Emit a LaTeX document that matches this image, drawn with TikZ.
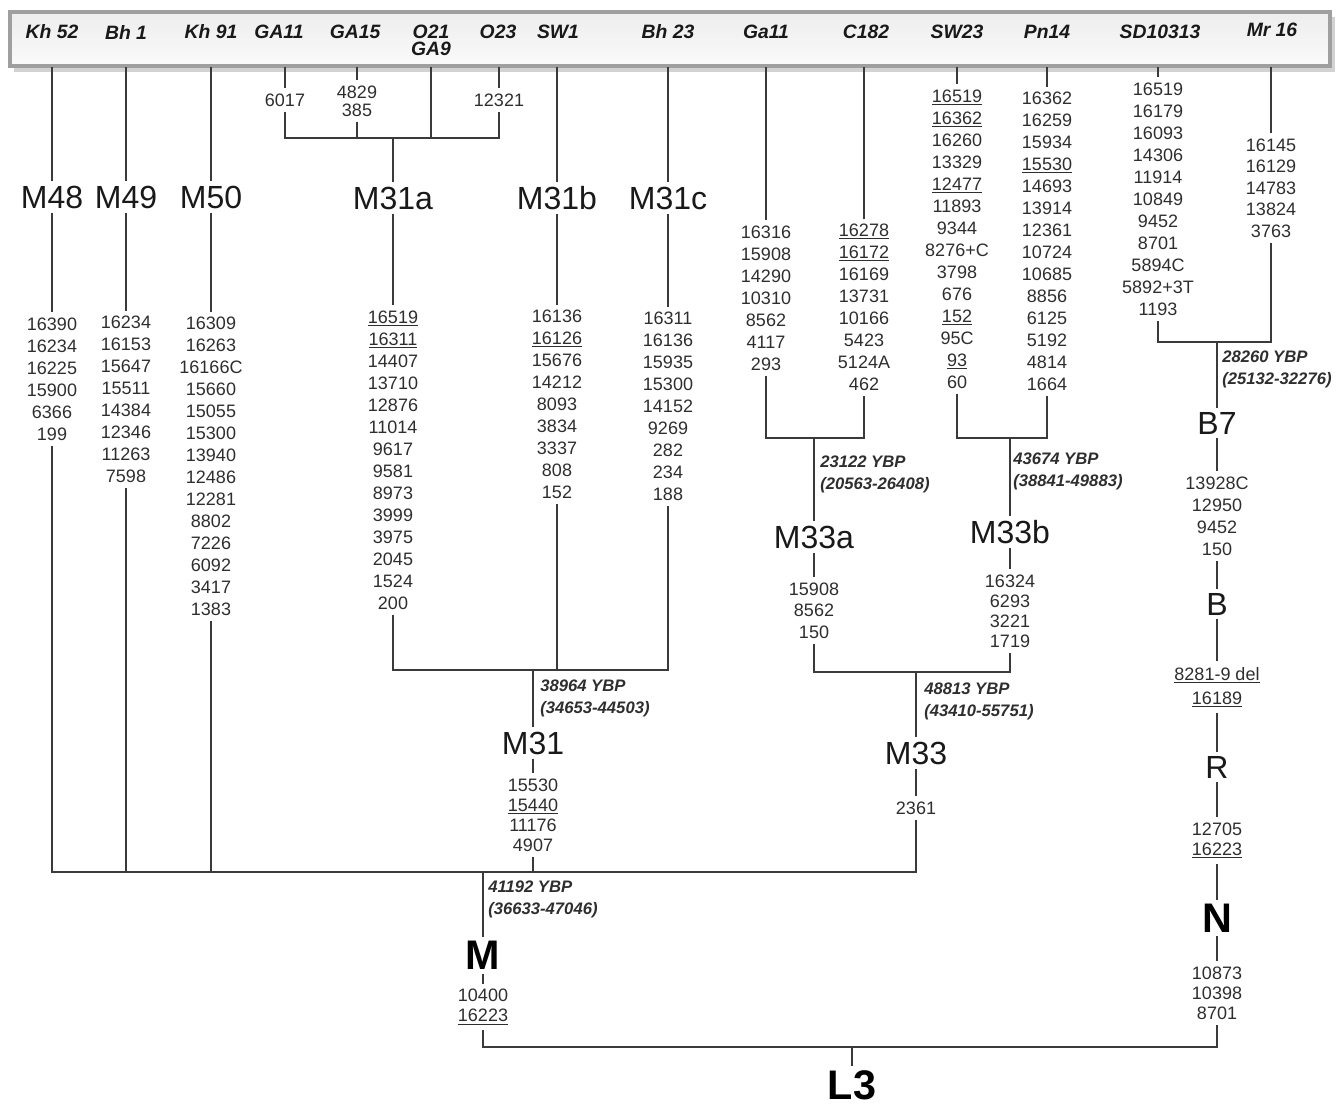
\documentclass[tikz,border=0pt]{standalone}
\usepackage{fontspec}
\setmainfont{Liberation Sans}
\definecolor{treecol}{HTML}{3A3A3A}
\definecolor{txtcol}{HTML}{2E2E2E}
\begin{document}
\begin{tikzpicture}[x=0.75pt,y=0.75pt]
        \tikzstyle{every node}+=[inner sep=0pt]
        \tikzstyle{tip}=[font=\bfseries\itshape\fontsize{14.5}{13}\selectfont, align=center, text=black!90]
        \tikzstyle{hg}=[font=\fontsize{24}{26}\selectfont, inner sep=3pt, text=black!90]
        \tikzstyle{hgb}=[font=\bfseries\fontsize{31}{33}\selectfont, inner sep=3pt, text=black]
        \tikzstyle{mut}=[font=\fontsize{13.5}{16.5}\selectfont, align=center, inner sep=4pt, text=txtcol]
        \tikzstyle{mutt}=[mut, font=\fontsize{13.5}{15}\selectfont]
        \tikzstyle{age}=[font=\bfseries\itshape\fontsize{12.5}{16.5}\selectfont, align=left, anchor=west, text=txtcol]
        \tikzstyle{branch}=[draw=treecol, line width=1pt]
        \useasboundingbox (0,0) rectangle (1342,-1107);
        % sample bar
        \fill [gray!35] (14,-17) rectangle (1335,-72);
        \draw [line width=2.4pt, draw=gray!75, top color=gray!14, bottom color=gray!4] (10,-12) rectangle (1330,-66);
        \draw (52,-32) node (kh52) [tip] {Kh 52};
        \draw (126,-32) node (bh1) [tip] {Bh 1};
        \draw (211,-32) node (kh91) [tip] {Kh 91};
        \draw (279,-32) node (ga11) [tip] {GA11};
        \draw (355,-32) node (ga15) [tip] {GA15};
        \draw (431,-40.5) node (o21) [tip] {O21\\GA9};
        \draw (498,-32) node (o23) [tip] {O23};
        \draw (558,-32) node (sw1) [tip] {SW1};
        \draw (668,-32) node (bh23) [tip] {Bh 23};
        \draw (766,-32) node (ga11b) [tip] {Ga11};
        \draw (866,-32) node (c182) [tip] {C182};
        \draw (957,-32) node (sw23) [tip] {SW23};
        \draw (1047,-32) node (pn14) [tip] {Pn14};
        \draw (1160,-32) node (sd10313) [tip] {SD10313};
        \draw (1272,-30) node (mr16) [tip] {Mr 16};
        % haplogroups
        \draw (52,-197) node (m48) [hg] {M48};
        \draw (126,-197) node (m49) [hg] {M49};
        \draw (211,-197) node (m50) [hg] {M50};
        \draw (393,-198) node (m31a) [hg] {M31a};
        \draw (557,-198) node (m31b) [hg] {M31b};
        \draw (668,-198) node (m31c) [hg] {M31c};
        \draw (533,-743) node (m31) [hg] {M31};
        \draw (814,-537) node (m33a) [hg] {M33a};
        \draw (1010,-532) node (m33b) [hg] {M33b};
        \draw (916,-753) node (m33) [hg] {M33};
        \draw (1217,-423) node (b7) [hg] {B7};
        \draw (1217,-604) node (hb) [hg] {B};
        \draw (1217,-767) node (hr) [hg] {R};
        \draw (1217,-918) node (hn) [hgb] {N};
        \draw (483,-955) node (hm) [hgb] {M};
        \draw (852,-1085) node (l3) [hgb] {L3};
        % mutations
        \draw (285,-100) node (g6017) [mut] {6017};
        \draw (357,-101) node (g4829) [mut, font=\fontsize{13.5}{13.5}\selectfont] {4829\\385};
        \draw (499,-100) node (g12321) [mut] {12321};
        \draw (52,-379) node (s48) [mut] {16390\\16234\\16225\\15900\\6366\\199};
        \draw (126,-399.5) node (s49) [mut] {16234\\16153\\15647\\15511\\14384\\12346\\11263\\7598};
        \draw (211,-466.5) node (s50) [mut] {16309\\16263\\16166C\\15660\\15055\\15300\\13940\\12486\\12281\\8802\\7226\\6092\\3417\\1383};
        \draw (393,-460) node (s31a) [mut] {\underline{16519}\\\underline{16311}\\14407\\13710\\12876\\11014\\9617\\9581\\8973\\3999\\3975\\2045\\1524\\200};
        \draw (557,-404.5) node (s31b) [mut] {16136\\\underline{16126}\\15676\\14212\\8093\\3834\\3337\\808\\152};
        \draw (668,-406.5) node (s31c) [mut] {16311\\16136\\15935\\15300\\14152\\9269\\282\\234\\188};
        \draw (766,-298) node (sga) [mut] {16316\\15908\\14290\\10310\\8562\\4117\\293};
        \draw (864,-307.5) node (sc182) [mut] {\underline{16278}\\\underline{16172}\\16169\\13731\\10166\\5423\\5124A\\462};
        \draw (957,-239) node (ssw23) [mut] {\underline{16519}\\\underline{16362}\\16260\\13329\\\underline{12477}\\11893\\9344\\8276+C\\3798\\676\\\underline{152}\\95C\\\underline{93}\\60};
        \draw (1047,-241.5) node (spn14) [mut] {16362\\16259\\15934\\\underline{15530}\\14693\\13914\\12361\\10724\\10685\\8856\\6125\\5192\\4814\\1664};
        \draw (1158,-199) node (ssd) [mut] {16519\\16179\\16093\\14306\\11914\\10849\\9452\\8701\\5894C\\5892+3T\\1193};
        \draw (1271,-188) node (smr) [mut, font=\fontsize{13.5}{16.1}\selectfont] {16145\\16129\\14783\\13824\\3763};
        \draw (533,-815) node (s31) [mutt] {15530\\\underline{15440}\\11176\\4907};
        \draw (814,-610.5) node (s33a) [mut, font=\fontsize{13.5}{16.1}\selectfont] {15908\\8562\\150};
        \draw (1010,-611) node (s33b) [mutt] {16324\\6293\\3221\\1719};
        \draw (916,-808) node (s33) [mut] {2361};
        \draw (483,-1007) node (sm) [mutt] {10400\\\underline{16223}};
        \draw (1217,-516) node (sb7) [mut] {13928C\\12950\\9452\\150};
        \draw (1217,-687) node (sb) [mut, font=\fontsize{13.5}{18}\selectfont] {\underline{8281-9 del}\\\underline{16189}};
        \draw (1217,-840.5) node (sr) [mutt] {12705\\\underline{16223}};
        \draw (1217,-993) node (sn) [mutt] {10873\\10398\\8701};
        % ages
        \draw (540,-698) node (a31) [age] {38964 YBP\\(34653-44503)};
        \draw (488,-899) node (am) [age] {41192 YBP\\(36633-47046)};
        \draw (820,-474.5) node (a33a) [age] {23122 YBP\\(20563-26408)};
        \draw (1013,-471.5) node (a33b) [age] {43674 YBP\\(38841-49883)};
        \draw (924,-701.5) node (a33) [age] {48813 YBP\\(43410-55751)};
        \draw (1222,-369) node (ab7) [age] {28260 YBP\\(25132-32276)};
        % junctions
        \coordinate (hdrb) at (0,-67);
        \coordinate (jga) at (393,-138);
        \coordinate (j31) at (533,-670);
        \coordinate (j33a) at (814,-438);
        \coordinate (j33b) at (1010,-438);
        \coordinate (j33) at (916,-672);
        \coordinate (jb7) at (1217,-342);
        \coordinate (jm) at (483,-872);
        \coordinate (jl3) at (852,-1047);
        % branches from the samples
        \draw [branch] (m48.north |- hdrb) -- (m48.north);
        \draw [branch] (m49.north |- hdrb) -- (m49.north);
        \draw [branch] (m50.north |- hdrb) -- (m50.north);
        \draw [branch] (g6017.north |- hdrb) -- (g6017.north);
        \draw [branch] (g4829.north |- hdrb) -- (g4829.north);
        \draw [branch] (o21.south |- hdrb) -- (o21.south |- jga);
        \draw [branch] (g12321.north |- hdrb) -- (g12321.north);
        \draw [branch] (m31b.north |- hdrb) -- (m31b.north);
        \draw [branch] (m31c.north |- hdrb) -- (m31c.north);
        \draw [branch] (sga.north |- hdrb) -- (sga.north);
        \draw [branch] (sc182.north |- hdrb) -- (sc182.north);
        \draw [branch] (ssw23.north |- hdrb) -- (ssw23.north);
        \draw [branch] (spn14.north |- hdrb) -- (spn14.north);
        \draw [branch] (ssd.north |- hdrb) -- (ssd.north);
        \draw [branch] (smr.north |- hdrb) -- (smr.north);
        % M31
        \draw [branch] (g6017.south) |- (jga) -| (g12321.south);
        \draw [branch] (g4829.south) -- (g4829.south |- jga);
        \draw [branch] (jga) -- (m31a.north);
        \draw [branch] (m48.south) -- (s48.north);
        \draw [branch] (m49.south) -- (s49.north);
        \draw [branch] (m50.south) -- (s50.north);
        \draw [branch] (m31a.south) -- (s31a.north);
        \draw [branch] (m31b.south) -- (s31b.north);
        \draw [branch] (m31c.south) -- (s31c.north);
        \draw [branch] (s31a.south) |- (j31) -| (s31c.south);
        \draw [branch] (s31b.south) -- (s31b.south |- j31);
        \draw [branch] (j31) -- (m31.north);
        \draw [branch] (m31.south) -- (s31.north);
        % M33
        \draw [branch] (sga.south) |- (j33a) -| (sc182.south);
        \draw [branch] (j33a) -- (m33a.north);
        \draw [branch] (m33a.south) -- (s33a.north);
        \draw [branch] (ssw23.south) |- (j33b) -| (spn14.south);
        \draw [branch] (j33b) -- (m33b.north);
        \draw [branch] (m33b.south) -- (s33b.north);
        \draw [branch] (s33a.south) |- (j33) -| (s33b.south);
        \draw [branch] (j33) -- (m33.north);
        \draw [branch] (m33.south) -- (s33.north);
        % M
        \draw [branch] (s48.south) |- (jm) -| (s33.south);
        \draw [branch] (s49.south) -- (s49.south |- jm);
        \draw [branch] (s50.south) -- (s50.south |- jm);
        \draw [branch] (s31.south) -- (s31.south |- jm);
        \draw [branch] (jm) -- (hm.north);
        \draw [branch] (hm.south) -- (sm.north);
        % N
        \draw [branch] (ssd.south) |- (jb7) -| (smr.south);
        \draw [branch] (jb7) -- (b7.north);
        \draw [branch] (b7.south) -- (sb7.north);
        \draw [branch] (sb7.south) -- (hb.north);
        \draw [branch] (hb.south) -- (sb.north);
        \draw [branch] (sb.south) -- (hr.north);
        \draw [branch] (hr.south) -- (sr.north);
        \draw [branch] (sr.south) -- (hn.north);
        \draw [branch] (hn.south) -- (sn.north);
        % L3
        \draw [branch] (sm.south) |- (jl3) -| (sn.south);
        \draw [branch] (jl3) -- (l3.north);
\end{tikzpicture}
\end{document}
